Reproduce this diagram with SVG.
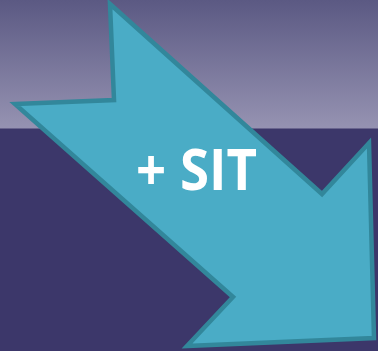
<svg xmlns="http://www.w3.org/2000/svg" width="378" height="351" viewBox="0 0 378 351">
  <defs>
    <linearGradient id="sky" x1="0" y1="0" x2="0" y2="1">
      <stop offset="0" stop-color="#5b5983"/>
      <stop offset="1" stop-color="#9693b2"/>
    </linearGradient>
  </defs>
  <style>
    .arrow { fill: #4aacc6; stroke: #32879b; stroke-width: 4.5; stroke-linejoin: miter; }
    .label { font-family: "Open Sans", "Liberation Sans", sans-serif; font-weight: bold; font-size: 58px; fill: #ffffff; }
  </style>
  <rect x="0" y="0" width="378" height="129" fill="url(#sky)"/>
  <rect x="0" y="128.5" width="378" height="222.5" fill="#3c376a"/>
  <g id="arrow">
    <polygon class="arrow" points="110,4 322,194 369,143 374,338 187,346 233,297 15,104 114,100"/>
  </g>
  <g id="label">
    <text class="label" x="136" y="190" textLength="121" lengthAdjust="spacingAndGlyphs">+ SIT</text>
  </g>
</svg>
